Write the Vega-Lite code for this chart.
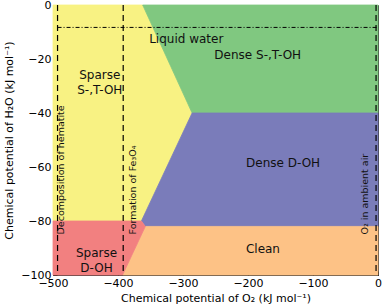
{
  "$schema": "https://vega.github.io/schema/vega-lite/v6.json",
  "width": 325,
  "height": 270,
  "autosize": {"type": "none"},
  "padding": {"left": 53, "top": 5, "right": 4, "bottom": 31},
  "config": {
    "font": "DejaVu Sans",
    "view": {"stroke": "#333333", "strokeWidth": 1},
    "axis": {"grid": false, "domain": false, "tickColor": "#000", "labelColor": "#000", "titleColor": "#000", "labelFontSize": 11, "titleFontSize": 11, "titleFontWeight": "normal", "tickSize": -4, "labelPadding": 6, "labelFlush": false}
  },
  "datasets": {
    "regions": [
      {"region": "yellow", "ord": 1, "x": -500, "y": 0},
      {"region": "yellow", "ord": 2, "x": -362, "y": 0},
      {"region": "yellow", "ord": 3, "x": -286, "y": -40},
      {"region": "yellow", "ord": 4, "x": -364, "y": -80},
      {"region": "yellow", "ord": 5, "x": -500, "y": -80},
      {"region": "green", "ord": 1, "x": -362, "y": 0},
      {"region": "green", "ord": 2, "x": 0, "y": 0},
      {"region": "green", "ord": 3, "x": 0, "y": -40},
      {"region": "green", "ord": 4, "x": -286, "y": -40},
      {"region": "blue", "ord": 1, "x": -286, "y": -40},
      {"region": "blue", "ord": 2, "x": 0, "y": -40},
      {"region": "blue", "ord": 3, "x": 0, "y": -82},
      {"region": "blue", "ord": 4, "x": -358, "y": -82},
      {"region": "blue", "ord": 5, "x": -364, "y": -80},
      {"region": "orange", "ord": 1, "x": -358, "y": -82},
      {"region": "orange", "ord": 2, "x": 0, "y": -82},
      {"region": "orange", "ord": 3, "x": 0, "y": -100},
      {"region": "orange", "ord": 4, "x": -393, "y": -100},
      {"region": "red", "ord": 1, "x": -500, "y": -80},
      {"region": "red", "ord": 2, "x": -364, "y": -80},
      {"region": "red", "ord": 3, "x": -358, "y": -82},
      {"region": "red", "ord": 4, "x": -393, "y": -100},
      {"region": "red", "ord": 5, "x": -500, "y": -100}
    ],
    "vlines": [
      {"x": -493},
      {"x": -392},
      {"x": -3}
    ],
    "water": [
      {"x": -493, "x2": 0, "y": -8.3}
    ],
    "labels": [
      {"x": -428, "y": -26, "label": ["Sparse", "S-,T-OH"]},
      {"x": -295, "y": -12.5, "label": "Liquid water"},
      {"x": -185, "y": -18.5, "label": "Dense S-,T-OH"},
      {"x": -146, "y": -58.5, "label": "Dense D-OH"},
      {"x": -177, "y": -90.5, "label": "Clean"},
      {"x": -433, "y": -92, "label": ["Sparse", "D-OH"]}
    ],
    "vlabels": [
      {"x": -487, "y": -85, "label": "Decomposition of hematite"},
      {"x": -377, "y": -85, "label": "Formation of Fe₃O₄"},
      {"x": -20, "y": -85, "label": "O₂ in ambient air"}
    ]
  },
  "layer": [
    {
      "data": {"name": "regions"},
      "mark": {"type": "line", "filled": true, "strokeWidth": 0.8, "interpolate": "linear-closed"},
      "encoding": {
        "x": {"field": "x", "type": "quantitative", "scale": {"domain": [-500, 0], "nice": false}, "axis": {"values": [-500, -400, -300, -200, -100, 0], "title": "Chemical potential of O₂ (kJ mol⁻¹)", "titlePadding": 4}},
        "y": {"field": "y", "type": "quantitative", "scale": {"domain": [-100, 0], "nice": false}, "axis": {"values": [-100, -80, -60, -40, -20, 0], "title": "Chemical potential of H₂O (kJ mol⁻¹)", "titlePadding": 6}},
        "detail": {"field": "region"},
        "order": {"field": "ord", "type": "quantitative"},
        "fill": {"field": "region", "type": "nominal", "scale": {"domain": ["yellow", "green", "blue", "orange", "red"], "range": ["#f8f283", "#80c880", "#7a7cba", "#fdc286", "#f28080"]}, "legend": null},
        "stroke": {"field": "region", "type": "nominal", "scale": {"domain": ["yellow", "green", "blue", "orange", "red"], "range": ["#f8f283", "#80c880", "#7a7cba", "#fdc286", "#f28080"]}, "legend": null}
      }
    },
    {
      "data": {"name": "vlines"},
      "mark": {"type": "rule", "color": "#000", "strokeWidth": 1.2, "strokeDash": [6, 4]},
      "encoding": {"x": {"field": "x", "type": "quantitative"}}
    },
    {
      "data": {"name": "water"},
      "mark": {"type": "rule", "color": "#000", "strokeWidth": 1, "strokeDash": [4, 2, 1, 2]},
      "encoding": {"x": {"field": "x", "type": "quantitative"}, "x2": {"field": "x2"}, "y": {"field": "y", "type": "quantitative"}}
    },
    {
      "data": {"name": "labels"},
      "mark": {"type": "text", "fontSize": 12, "color": "#111", "align": "center", "baseline": "middle", "lineHeight": 15},
      "encoding": {"x": {"field": "x", "type": "quantitative"}, "y": {"field": "y", "type": "quantitative"}, "text": {"field": "label"}}
    },
    {
      "data": {"name": "vlabels"},
      "mark": {"type": "text", "fontSize": 9.5, "color": "#111", "align": "left", "baseline": "middle", "angle": 270},
      "encoding": {"x": {"field": "x", "type": "quantitative"}, "y": {"field": "y", "type": "quantitative"}, "text": {"field": "label"}}
    }
  ]
}
